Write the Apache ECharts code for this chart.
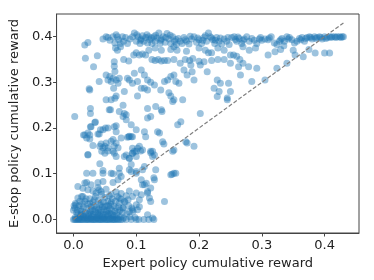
<!DOCTYPE html>
<html><head><meta charset="utf-8">
<script src="https://cdn.jsdelivr.net/npm/echarts@6/dist/echarts.min.js"></script>
<style>html,body{margin:0;padding:0;background:#fff}#c{width:374px;height:280px}</style>
</head><body><div id="c"></div>
<script>
var xTicks = [0, 0.1, 0.2, 0.3, 0.4];
var yTicks = [0, 0.1, 0.2, 0.3, 0.4];
var diagonal = [[0, 0], [0.43, 0.43]];

var topBand = [[0.047,0.395],[0.052,0.40],[0.058,0.392],[0.063,0.40],[0.066,0.386],[0.07,0.40],[0.072,0.393],[0.075,0.385],[0.078,0.40],[0.08,0.39],
[0.086,0.385],[0.09,0.395],[0.094,0.40],[0.097,0.408],[0.1,0.39],[0.103,0.40],[0.106,0.385],[0.108,0.395],[0.11,0.402],[0.112,0.39],[0.115,0.398],[0.118,0.386],[0.12,0.40],[0.122,0.393],[0.125,0.385],[0.128,0.40],[0.13,0.39],[0.133,0.397],[0.136,0.408],[0.138,0.385],[0.14,0.395],[0.143,0.40],[0.146,0.388],[0.149,0.407],[0.152,0.395],[0.155,0.385],[0.158,0.40],[0.161,0.39],[0.164,0.383],[0.167,0.396],[0.17,0.39],[0.173,0.385],[0.176,0.398],[0.18,0.39],[0.184,0.384],[0.188,0.395],[0.192,0.40],[0.196,0.388],[0.2,0.393],[0.204,0.385],[0.208,0.398],[0.212,0.39],[0.215,0.408],[0.218,0.40],[0.222,0.393],[0.225,0.385],[0.228,0.398],[0.232,0.39],[0.236,0.384],[0.24,0.395],[0.244,0.39],[0.248,0.383],[0.252,0.398],[0.256,0.40],[0.26,0.39],[0.264,0.396],[0.268,0.385],[0.272,0.395],[0.276,0.40],[0.28,0.39],[0.284,0.396],[0.288,0.392],[0.292,0.385],[0.296,0.395],[0.3,0.392],[0.305,0.395],[0.31,0.393],[0.315,0.40],[0.32,0.386],[0.324,0.383],[0.328,0.39],[0.332,0.396],[0.336,0.39],[0.34,0.40],[0.344,0.398],[0.348,0.393],[0.352,0.386],[0.356,0.39],[0.36,0.396],[0.364,0.398],[0.368,0.39],[0.372,0.398],[0.376,0.40],[0.38,0.395],[0.384,0.40],[0.388,0.398],[0.392,0.40],[0.396,0.395],[0.4,0.40],[0.404,0.398],[0.408,0.40],[0.412,0.40],[0.416,0.40],[0.42,0.40],[0.424,0.40],[0.428,0.40],[0.43,0.40],
[0.055,0.398],[0.068,0.404],[0.083,0.398],[0.101,0.404],[0.107,0.392],[0.117,0.404],[0.124,0.397],[0.131,0.403],[0.139,0.392],[0.147,0.398],[0.154,0.403],[0.163,0.394],[0.178,0.393],[0.186,0.401],[0.198,0.397],[0.206,0.392],[0.21,0.402],[0.22,0.397],[0.226,0.392],[0.234,0.397],[0.246,0.398],[0.258,0.394],[0.262,0.399],[0.27,0.392],[0.298,0.398],[0.312,0.397],[0.33,0.393],[0.342,0.395],[0.362,0.393],[0.37,0.396],[0.378,0.398],[0.386,0.396],[0.394,0.398],[0.402,0.396],[0.41,0.398],[0.418,0.398],[0.426,0.398],
[0.067,0.375],[0.07,0.37],[0.075,0.378],[0.096,0.36],[0.1,0.365],[0.105,0.36],[0.11,0.362],[0.115,0.36],[0.12,0.37],[0.13,0.375],[0.14,0.37],[0.155,0.372],[0.16,0.378],[0.165,0.37],[0.18,0.368],[0.2,0.375],[0.21,0.37],[0.215,0.365],[0.22,0.365],[0.23,0.375],[0.24,0.37],[0.25,0.36],[0.255,0.36],[0.26,0.357],[0.27,0.378],[0.28,0.37],[0.29,0.375],[0.33,0.372],[0.335,0.38],[0.35,0.37],[0.375,0.372],[0.385,0.364],[0.4,0.364],[0.408,0.364],
[0.08,0.35],[0.088,0.347],[0.125,0.35],[0.13,0.348],[0.135,0.35],[0.14,0.347],[0.145,0.348],[0.15,0.348],[0.16,0.35],[0.17,0.342],[0.178,0.35],[0.185,0.348],[0.19,0.352],[0.2,0.346],[0.22,0.348],[0.23,0.35],[0.24,0.35],[0.25,0.342],[0.27,0.342],[0.265,0.35]];

var upperScatter = [[0.002,0.225],[0.018,0.382],[0.023,0.387],[0.019,0.353],[0.038,0.358],[0.032,0.334],[0.041,0.302],[0.025,0.286],[0.026,0.283],
[0.027,0.243],[0.027,0.232],[0.027,0.203],[0.034,0.212],[0.016,0.185],[0.023,0.189],[0.026,0.176],[0.023,0.142],[0.031,0.162],[0.041,0.187],[0.043,0.196],[0.051,0.2],[0.042,0.122],[0.047,0.107],
[0.052,0.316],[0.058,0.313],[0.063,0.309],[0.068,0.305],[0.073,0.309],[0.06,0.302],[0.071,0.298],[0.055,0.305],
[0.065,0.345],[0.065,0.335],[0.066,0.324],[0.052,0.262],[0.06,0.262],[0.068,0.27],[0.064,0.287],[0.066,0.265],[0.057,0.24],[0.073,0.236],[0.079,0.25],[0.081,0.232],[0.084,0.229],[0.068,0.205],
[0.081,0.28],[0.086,0.309],[0.089,0.305],[0.094,0.298],[0.097,0.32],[0.102,0.302],[0.102,0.27],[0.108,0.287],[0.113,0.287],[0.118,0.283],[0.118,0.305],[0.113,0.316],[0.108,0.327],[0.123,0.30],[0.129,0.294],[0.139,0.283],[0.131,0.247],[0.118,0.243],[0.14,0.24],[0.141,0.236],[0.123,0.225],[0.118,0.222],
[0.1,0.196],[0.092,0.181],[0.089,0.182],[0.086,0.18],[0.094,0.156],[0.113,0.192],[0.115,0.181],[0.11,0.152],[0.107,0.15],[0.134,0.192],[0.137,0.189],[0.142,0.17],[0.144,0.165],[0.129,0.141],[0.126,0.149],[0.123,0.146],
[0.145,0.302],[0.15,0.305],[0.155,0.313],[0.16,0.316],[0.163,0.302],[0.168,0.298],[0.155,0.27],[0.152,0.277],[0.16,0.262],[0.158,0.258],[0.174,0.262],[0.171,0.214],[0.166,0.207],[0.158,0.149],[0.16,0.152],[0.179,0.17],[0.181,0.167],[0.192,0.16],[0.202,0.232],
[0.176,0.327],[0.181,0.316],[0.189,0.323],[0.192,0.305],[0.187,0.338],[0.202,0.338],[0.208,0.345],[0.213,0.323],[0.224,0.287],[0.229,0.269],[0.232,0.28],[0.229,0.305],[0.234,0.298],[0.247,0.298],[0.25,0.28],[0.245,0.266],[0.245,0.262],[0.266,0.316],[0.263,0.334],[0.279,0.334],[0.284,0.302],[0.292,0.331],[0.305,0.305],[0.324,0.331],[0.34,0.342],[0.31,0.36],[0.321,0.367],[0.353,0.36],[0.366,0.356],
[0.055,0.2],[0.047,0.196],[0.039,0.187],[0.026,0.185],[0.018,0.185],[0.021,0.178],[0.088,0.181],[0.094,0.181],[0.068,0.192],[0.065,0.203],[0.035,0.213],[0.028,0.203],[0.079,0.225],[0.084,0.218],[0.092,0.207],[0.059,0.24]];

var midScatter = [[0.042,0.16],[0.044,0.165],[0.047,0.157],[0.05,0.16],[0.052,0.167],[0.055,0.157],[0.055,0.15],[0.05,0.145],[0.045,0.149],[0.06,0.171],[0.063,0.175],[0.065,0.16],[0.068,0.167],[0.071,0.157],[0.063,0.149],[0.065,0.145],[0.076,0.178],[0.081,0.138],[0.089,0.134],[0.094,0.145],[0.097,0.149],[0.089,0.109],[0.092,0.12],[0.1,0.105],[0.073,0.112],[0.068,0.138],[0.108,0.087],[0.113,0.076],[0.116,0.079],[0.118,0.061],[0.129,0.087],[0.113,0.116],[0.11,0.109],[0.131,0.109],[0.155,0.098],[0.163,0.101],[0.145,0.039],[0.121,0.047],[0.123,0.039],[0.1,0.058],[0.087,0.043],[0.094,0.05],
[0.084,0.141],[0.089,0.134],[0.1,0.149],[0.102,0.156],[0.105,0.16],[0.1,0.138],[0.094,0.145],[0.123,0.149],[0.126,0.138],[0.023,0.141]];

var lowCluster = [[0.0,0.0],[0.002,0.0],[0.004,0.0],[0.006,0.0],[0.008,0.0],[0.01,0.0],[0.012,0.0],[0.014,0.0],[0.016,0.0],[0.019,0.0],[0.021,0.0],[0.023,0.0],[0.025,0.0],[0.028,0.0],[0.03,0.0],[0.032,0.0],[0.034,0.0],[0.036,0.0],[0.039,0.0],[0.041,0.0],[0.043,0.0],[0.045,0.0],[0.047,0.0],[0.05,0.0],[0.052,0.0],[0.054,0.0],[0.056,0.0],[0.058,0.0],[0.061,0.0],[0.063,0.0],[0.065,0.0],[0.067,0.0],[0.07,0.0],[0.072,0.0],[0.075,0.0],[0.078,0.0],[0.084,0.0],[0.092,0.0],[0.1,0.0],[0.104,0.0],[0.112,0.0],[0.12,0.0],[0.128,0.0],
[0.003,0.005],[0.007,0.01],[0.01,0.004],[0.013,0.012],[0.016,0.006],[0.019,0.015],[0.022,0.003],[0.024,0.01],[0.027,0.018],[0.029,0.006],[0.032,0.012],[0.034,0.022],[0.037,0.004],[0.039,0.014],[0.042,0.008],[0.044,0.02],[0.047,0.011],[0.049,0.004],[0.052,0.016],[0.055,0.008],[0.058,0.024],[0.06,0.012],[0.063,0.005],[0.066,0.018],[0.069,0.01],[0.072,0.028],[0.075,0.006],[0.078,0.015],[0.08,0.003],[0.085,0.012],[0.09,0.006],[0.095,0.018],[0.098,0.004],
[0.002,0.025],[0.004,0.032],[0.006,0.02],[0.009,0.03],[0.011,0.022],[0.014,0.035],[0.016,0.027],[0.018,0.04],[0.021,0.024],[0.023,0.033],[0.026,0.045],[0.028,0.028],[0.031,0.038],[0.033,0.03],[0.035,0.05],[0.037,0.026],[0.04,0.042],[0.042,0.032],[0.045,0.055],[0.046,0.028],[0.048,0.038],[0.05,0.048],[0.053,0.03],[0.055,0.04],[0.057,0.052],[0.059,0.034],[0.062,0.045],[0.064,0.03],[0.067,0.04],[0.07,0.05],[0.073,0.036],[0.076,0.044],[0.079,0.025],[0.082,0.038],[0.088,0.03],[0.093,0.025],
[0.007,0.072],[0.015,0.068],[0.023,0.065],[0.031,0.062],[0.036,0.058],[0.039,0.07],[0.044,0.061],[0.052,0.066],[0.06,0.055],[0.068,0.06],[0.076,0.057],[0.084,0.052],[0.089,0.062],
[0.021,0.101],[0.031,0.101],[0.047,0.101],[0.06,0.101],[0.021,0.081],[0.039,0.081],[0.047,0.083],[0.063,0.081],[0.071,0.087],[0.076,0.094],[0.063,0.1],[0.073,0.101],[0.018,0.08],[0.028,0.076],[0.041,0.065],
[0.092,0.105],[0.1,0.101],[0.11,0.076],[0.123,0.069],[0.118,0.058],[0.108,0.054],[0.105,0.043],[0.1,0.032],[0.094,0.021],[0.089,0.017],[0.079,0.025],[0.081,0.039],[0.073,0.047],[0.128,0.091],[0.16,0.101],[0.157,0.099],[0.102,0.021],[0.105,0.028],[0.118,0.01],[0.126,0.003],
[0.005,0.015],[0.012,0.018],[0.015,0.01],[0.02,0.008],[0.025,0.014],[0.03,0.02],[0.035,0.016],[0.038,0.008],[0.043,0.015],[0.048,0.022],[0.051,0.01],[0.054,0.02],[0.057,0.014],[0.061,0.02],[0.065,0.008],[0.068,0.025],[0.071,0.015],[0.074,0.02],[0.026,0.035],[0.033,0.043],[0.04,0.022],[0.044,0.035],[0.05,0.028],[0.056,0.03],[0.06,0.038],[0.01,0.04],[0.013,0.05],[0.02,0.045],
[0.0,0.02],[0.001,0.03],[0.003,0.035],[0.007,0.047],[0.015,0.05],
[0.008,0.002],[0.018,0.003],[0.027,0.002],[0.038,0.002],[0.048,0.002],[0.059,0.002],[0.069,0.002],[0.011,0.008],[0.031,0.006],[0.046,0.006],[0.062,0.01],[0.028,0.012],[0.04,0.011],[0.054,0.012]];

var allPoints = topBand.concat(upperScatter, midScatter, lowCluster);

var chart = echarts.init(document.getElementById('c'), null, {renderer: 'canvas'});
var axisCol = '#444';
var txt = {color: '#222', fontSize: 13, fontFamily: 'DejaVu Sans'};
chart.setOption({
  animation: false,
  grid: {left: 55, right: 15, top: 14, bottom: 47, show: true, borderColor: axisCol, borderWidth: 1, backgroundColor: 'transparent'},
  xAxis: {
    type: 'value', min: -0.0269, max: 0.4548,
    splitLine: {show: false},
    axisLine: {show: true, onZero: false, lineStyle: {color: axisCol}},
    axisTick: {show: true, length: 3.5, lineStyle: {color: axisCol}, customValues: xTicks},
    axisLabel: Object.assign({margin: 6, customValues: xTicks, formatter: function (v) { return v.toFixed(1); }}, txt),
    name: 'Expert policy cumulative reward', nameLocation: 'middle', nameGap: 22,
    nameTextStyle: txt
  },
  yAxis: {
    type: 'value', min: -0.0297, max: 0.4496,
    splitLine: {show: false},
    axisLine: {show: true, onZero: false, lineStyle: {color: axisCol}},
    axisTick: {show: true, length: 3.5, lineStyle: {color: axisCol}, customValues: yTicks},
    axisLabel: Object.assign({margin: 4, customValues: yTicks, formatter: function (v) { return v.toFixed(1); }}, txt),
    name: 'E-stop policy cumulative reward', nameLocation: 'middle', nameGap: 27,
    nameTextStyle: txt
  },
  series: [
    {type: 'scatter', data: allPoints, symbolSize: 7,
     itemStyle: {color: 'rgba(31,119,180,0.55)'}, z: 2},
    {type: 'line', data: diagonal, symbol: 'none', z: 3,
     lineStyle: {color: '#7f7f7f', width: 1.2, type: [4, 2]}}
  ]
});
</script></body></html>
